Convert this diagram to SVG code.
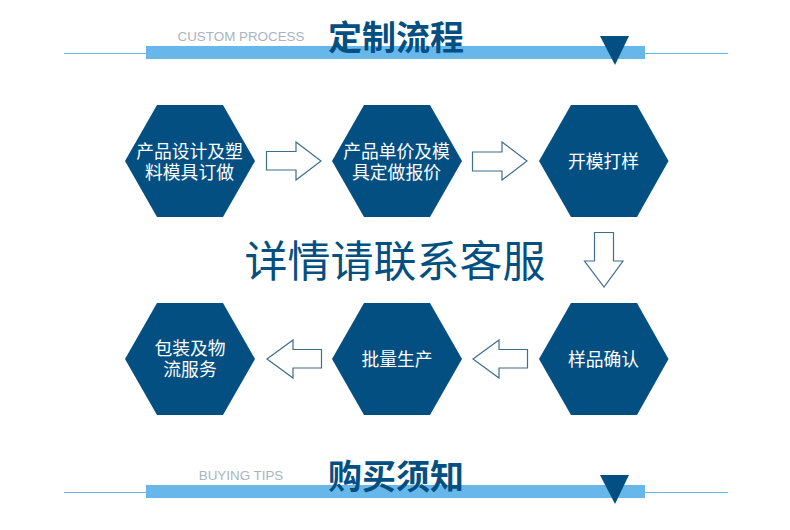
<svg xmlns="http://www.w3.org/2000/svg" width="790" height="530" viewBox="0 0 790 530">
<style>
.cjk{font-family:"Noto Sans CJK SC","Liberation Sans",sans-serif}
.hex{fill:#044f82}
.lbl{fill:#fff;font-size:17.8px;text-anchor:middle}
.title{fill:#044f82;font-size:34px;font-weight:700;text-anchor:middle}
.sub{fill:#a9b4c2;font-size:13.4px;font-family:"Liberation Sans",Arial,sans-serif;text-anchor:middle}
.bar{fill:#67b7ea}
.rule{stroke:#67b7ea;stroke-width:1;fill:none}
.tri{fill:#044f82}
.arrow{fill:#fff;stroke:#3f6d8e;stroke-width:1.2}
</style>
<rect width="790" height="530" fill="#fff"/>
<g id="header-top">
<path class="rule" d="M64 53.5H146M645 53.5H728"/>
<rect class="bar" x="146" y="46" width="499" height="13"/>
<text class="sub" x="241" y="41">CUSTOM PROCESS</text>
<text class="title cjk" x="396" y="50">定制流程</text>
<polygon class="tri" points="600,36 629,36 615,65"/>
</g>
<g id="header-bottom">
<path class="rule" d="M64 492.500H146M645 492.500H728"/>
<rect class="bar" x="146" y="485" width="499" height="13"/>
<text class="sub" x="241" y="480">BUYING TIPS</text>
<text class="title cjk" x="396" y="489">购买须知</text>
<polygon class="tri" points="600,475 629,475 615,504"/>
</g>
<g id="center-text"><text class="cjk" x="395" y="277" fill="#044f82" font-size="43" text-anchor="middle">详情请联系客服</text></g>
<g id="node-1"><polygon class="hex" points="125,161 157,105 223,105 255,161 223,217 157,217"/>
<text class="lbl cjk" y="158"><tspan x="189.500">产品设计及塑</tspan><tspan x="189.500" dy="21">料模具订做</tspan></text></g>
<g id="node-2"><polygon class="hex" points="332,161 364,105 430,105 462,161 430,217 364,217"/>
<text class="lbl cjk" y="158"><tspan x="396.500">产品单价及模</tspan><tspan x="396.500" dy="21">具定做报价</tspan></text></g>
<g id="node-3"><polygon class="hex" points="539,161 571,105 637,105 668.500,161 637,217 571,217"/>
<text class="lbl cjk" x="603.500" y="168">开模打样</text></g>
<g id="node-4"><polygon class="hex" points="539,359 571,303 637,303 668.500,359 637,415 571,415"/>
<text class="lbl cjk" x="603.500" y="366">样品确认</text></g>
<g id="node-5"><polygon class="hex" points="332,359 364,303 430,303 462,359 430,415 364,415"/>
<text class="lbl cjk" x="397" y="366">批量生产</text></g>
<g id="node-6"><polygon class="hex" points="125,359 157,303 223,303 255,359 223,415 157,415"/>
<text class="lbl cjk" y="355"><tspan x="190">包装及物</tspan><tspan x="190" dy="21">流服务</tspan></text></g>
<g id="connectors">
<polygon class="arrow" points="266.500,151.500 296,151.500 296,142 321,161 296,180 296,170 266.500,170"/>
<polygon class="arrow" points="472.500,152 502,152 502,142 527,161 502,180 502,171 472.500,171"/>
<polygon class="arrow" points="594.500,232.500 613.500,232.500 613.500,261 623,261 604,287 584.500,261 594.500,261"/>
<polygon class="arrow" points="527.500,349.500 499,349.500 499,340 473,359 499,378 499,368 527.500,368"/>
<polygon class="arrow" points="321.500,349.500 293,349.500 293,340 267,359 293,378 293,368 321.500,368"/>
</g>
</svg>
